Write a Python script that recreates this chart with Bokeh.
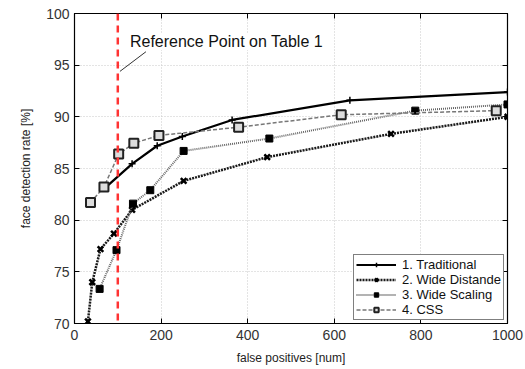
from bokeh.plotting import figure
from bokeh.models import Span, Label, LinearAxis, Legend, LegendItem, Arrow, FixedTicker, CustomJSTickFormatter
from bokeh.embed import file_html
from bokeh.resources import INLINE

# Data
trad_x = [70, 133, 191, 249, 364, 636, 1000]
trad_y = [83.1, 85.45, 87.2, 88.1, 89.7, 91.6, 92.4]

dist_x = [31, 41, 60, 91, 133, 252, 445, 731, 1000]
dist_y = [70.2, 74.0, 77.2, 78.7, 81.0, 83.8, 86.1, 88.35, 90.0]

scal_x = [58, 97, 135, 175, 252, 450, 787, 1000]
scal_y = [73.35, 77.1, 81.6, 82.9, 86.7, 87.9, 90.6, 91.2]

css_x = [37, 68, 102, 137, 195, 379, 616, 974]
css_y = [81.7, 83.2, 86.4, 87.45, 88.2, 89.0, 90.2, 90.6]

labels = ["1. Traditional", "2. Wide Distande", "3. Wide Scaling", "4. CSS"]
x_ticks = [0, 200, 400, 600, 800, 1000]
y_ticks = [70, 75, 80, 85, 90, 95, 100]
ref_x = 100

FONT = "Liberation Sans"

p = figure(width=525, height=369, x_range=(0, 1000), y_range=(70, 100),
           output_backend="svg", toolbar_location=None,
           min_border_left=74, min_border_right=18, min_border_top=13, min_border_bottom=46)
p.outline_line_color = "black"
p.outline_line_width = 1.2
p.background_fill_color = "white"
p.border_fill_color = "white"

p.xaxis.ticker = FixedTicker(ticks=x_ticks)
p.yaxis.ticker = FixedTicker(ticks=y_ticks)
for ax in (p.xaxis[0], p.yaxis[0]):
    ax.major_tick_in = 5
    ax.major_tick_out = 0
    ax.minor_tick_in = 0
    ax.minor_tick_out = 0
    ax.axis_line_color = "black"
    ax.major_label_text_font = FONT
    ax.major_label_text_font_size = "14px"
    ax.major_label_text_color = "#333333"
    ax.axis_label_text_font = FONT
    ax.axis_label_text_font_size = "12px"
    ax.axis_label_text_font_style = "normal"
    ax.axis_label_text_color = "#222222"
p.xaxis.axis_label = "false positives [num]"
p.yaxis.axis_label = "face detection rate [%]"
p.xaxis.major_label_standoff = 6
p.xaxis.axis_label_standoff = 8
p.yaxis.major_label_standoff = 5
p.yaxis.axis_label_standoff = 10

blank = CustomJSTickFormatter(code="return '';")
for loc, tk in (("right", y_ticks), ("above", x_ticks)):
    a = LinearAxis(ticker=FixedTicker(ticks=tk), major_tick_in=5, major_tick_out=0,
                   minor_tick_in=0, minor_tick_out=0, formatter=blank,
                   major_label_standoff=0, axis_line_color="black")
    p.add_layout(a, loc)

p.xgrid.grid_line_color = "#c8c8c8"
p.ygrid.grid_line_color = "#c8c8c8"
p.xgrid.grid_line_dash = "1 2"
p.ygrid.grid_line_dash = "1 2"

# series
l1 = p.line(trad_x, trad_y, line_color="black", line_width=2.2)
m1 = p.scatter(trad_x, trad_y, marker="cross", size=7, line_color="black", line_width=1.5)

l2 = p.line(dist_x, dist_y, line_color="#1a1a1a", line_width=2.5, line_dash="2 1")
m2 = p.scatter(dist_x, dist_y, marker="x", size=8, line_color="black", line_width=2.5)

l3 = p.line(scal_x, scal_y, line_color="#666666", line_width=2, line_dash="1 1")
m3 = p.scatter(scal_x, scal_y, marker="square", size=7, fill_color="black", line_color="black")

l4 = p.line(css_x, css_y, line_color="#777777", line_width=1.5, line_dash="4 2")
m4 = p.scatter(css_x, css_y, marker="square", size=9, fill_color="#dddddd", line_color="#222222", line_width=2)

# reference line
p.add_layout(Span(location=ref_x, dimension="height", line_color="#ff3333",
                  line_width=2.5, line_dash="7 5"))

p.add_layout(Arrow(end=None, x_start=ref_x + 5, y_start=94.4, x_end=165, y_end=96.3,
                   line_color="#333333", line_width=1))
p.add_layout(Label(x=128, y=97.3, text="Reference Point on Table 1", text_font=FONT,
                   text_font_size="16px", text_color="#111111", text_baseline="middle",
                   background_fill_color="white", background_fill_alpha=1.0))

legend = Legend(items=[LegendItem(label=labels[0], renderers=[l1, m1]),
                       LegendItem(label=labels[1], renderers=[l2, m2]),
                       LegendItem(label=labels[2], renderers=[l3, m3]),
                       LegendItem(label=labels[3], renderers=[l4, m4])],
                location="bottom_right")
legend.label_text_font = FONT
legend.label_text_font_size = "13px"
legend.label_text_color = "#111111"
legend.border_line_color = "black"
legend.border_line_width = 1
legend.margin = 3
legend.padding = 2
legend.spacing = 0
legend.glyph_height = 11
legend.glyph_width = 40
legend.label_height = 11
legend.label_standoff = 6
legend.background_fill_alpha = 1.0
p.add_layout(legend)

open("out.html", "w").write(file_html(p, INLINE))
